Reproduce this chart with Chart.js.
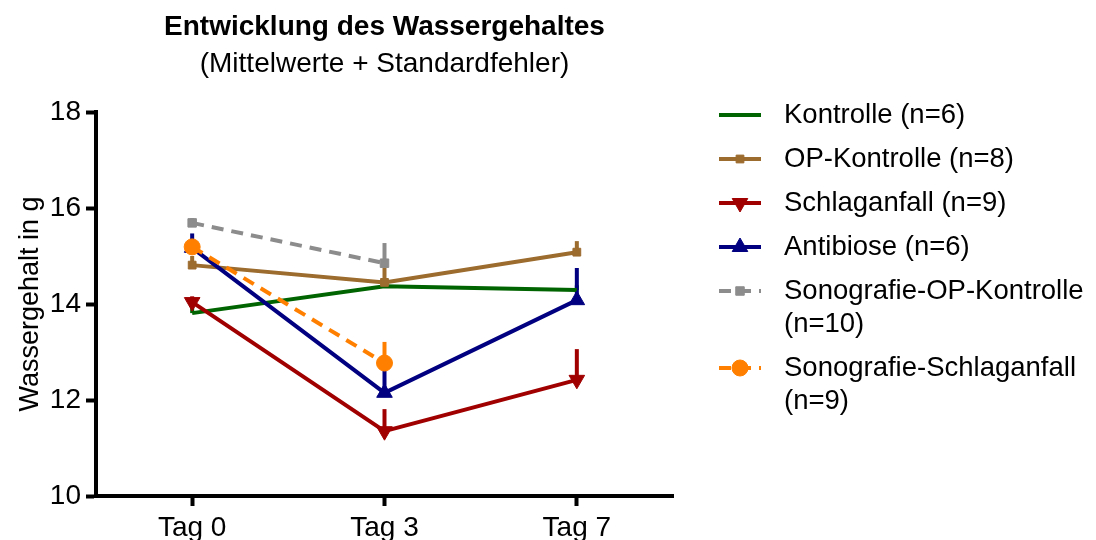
<!DOCTYPE html>
<html>
<head>
<meta charset="utf-8">
<script src="https://cdn.jsdelivr.net/npm/chart.js@4.4.0/dist/chart.umd.min.js"></script>
<style>
html, body { margin: 0; padding: 0; background: #fff; }
#wrap { width: 1096px; height: 540px; }
</style>
</head>
<body>
<div id="wrap"><canvas id="chart"></canvas></div>
<script>
// data
var days = ["Tag 0", "Tag 3", "Tag 7"];
var yTicks = [10, 12, 14, 16, 18];

var kontrolle = [13.81, 14.37, 14.29];
var kontrolleErr = [0.17, 0.1, 0.1];
var opKontrolle = [14.81, 14.45, 15.08];
var opKontrolleErr = [0.19, 0.3, 0.23];
var schlaganfall = [14.04, 11.35, 12.42];
var schlaganfallErr = [0.12, 0.46, 0.64];
var antibiose = [15.17, 12.15, 14.08];
var antibioseErr = [0.3, 0.55, 0.67];
var sonoOpKontrolle = [15.69, 14.85, null];
var sonoOpKontrolleErr = [0.1, 0.42, 0];
var sonoSchlaganfall = [15.19, 12.77, null];
var sonoSchlaganfallErr = [0.1, 0.44, 0];

var seriesNames = [
    ["Kontrolle (n=6)"],
    ["OP-Kontrolle (n=8)"],
    ["Schlaganfall (n=9)"],
    ["Antibiose (n=6)"],
    ["Sonografie-OP-Kontrolle", "(n=10)"],
    ["Sonografie-Schlaganfall", "(n=9)"]
];

var FONT = "'Liberation Sans', Arial, sans-serif";

function series(i, values, errs, color, style, radius, rotation, dash) {
    return {
        label: seriesNames[i].join(" "),
        data: values,
        errors: errs,
        borderColor: color,
        backgroundColor: color,
        borderWidth: 4,
        borderDash: dash || [],
        pointStyle: style,
        pointRadius: radius,
        pointHoverRadius: radius,
        pointRotation: rotation || 0,
        pointBorderWidth: 1,
        pointBorderColor: color,
        pointBackgroundColor: color,
        tension: 0,
        spanGaps: false,
        fill: false,
        order: 6 - i
    };
}

// upward error bars (mean + SEM)
var errorBars = {
    id: "errorBars",
    beforeDatasetsDraw: function(chart) {
        var ctx = chart.ctx;
        var ys = chart.scales.y;
        ctx.save();
        chart.data.datasets.forEach(function(ds, i) {
            var meta = chart.getDatasetMeta(i);
            ctx.strokeStyle = ds.borderColor;
            ctx.lineWidth = 4;
            ctx.setLineDash([]);
            ds.data.forEach(function(v, j) {
                if (v === null || !ds.errors[j]) return;
                var pt = meta.data[j];
                ctx.beginPath();
                ctx.moveTo(pt.x, pt.y);
                ctx.lineTo(pt.x, ys.getPixelForValue(v + ds.errors[j]));
                ctx.stroke();
            });
        });
        ctx.restore();
    }
};

// title, subtitle, y-axis title and legend
var decorations = {
    id: "decorations",
    afterDraw: function(chart) {
        var ctx = chart.ctx;
        var area = chart.chartArea;
        var cx = (area.left + area.right) / 2;
        ctx.save();
        ctx.fillStyle = "#000";
        ctx.textAlign = "center";
        ctx.textBaseline = "alphabetic";
        ctx.font = "bold 28px " + FONT;
        ctx.fillText("Entwicklung des Wassergehaltes", cx, 35);
        ctx.font = "28px " + FONT;
        ctx.fillText("(Mittelwerte + Standardfehler)", cx, 72);

        ctx.save();
        ctx.translate(31, (area.top + area.bottom) / 2);
        ctx.rotate(-Math.PI / 2);
        ctx.textBaseline = "middle";
        ctx.font = "27px " + FONT;
        ctx.fillText("Wassergehalt in g", 0, 0);
        ctx.restore();

        var y = 115;
        ctx.font = "27.5px " + FONT;
        ctx.textAlign = "left";
        ctx.textBaseline = "middle";
        chart.data.datasets.forEach(function(ds, i) {
            ctx.save();
            ctx.strokeStyle = ds.borderColor;
            ctx.lineWidth = 4;
            ctx.setLineDash(ds.borderDash);
            ctx.beginPath();
            ctx.moveTo(719, y);
            ctx.lineTo(761, y);
            ctx.stroke();
            ctx.setLineDash([]);
            if (ds.pointRadius > 0) {
                ctx.fillStyle = ds.pointBackgroundColor;
                ctx.strokeStyle = ds.pointBorderColor;
                ctx.lineWidth = 1;
                Chart.helpers.drawPoint(ctx, {
                    pointStyle: ds.pointStyle,
                    rotation: ds.pointRotation,
                    radius: ds.pointRadius,
                    borderWidth: 1
                }, 740, y);
            }
            ctx.restore();
            ctx.fillStyle = "#000";
            seriesNames[i].forEach(function(line, k) {
                ctx.fillText(line, 784, y + k * 33);
            });
            y += 44 + (seriesNames[i].length - 1) * 33;
        });
        ctx.restore();
    }
};

new Chart(document.getElementById("chart"), {
    type: "line",
    data: {
        labels: days,
        datasets: [
            series(0, kontrolle, kontrolleErr, "#006400", "circle", 0),
            series(1, opKontrolle, opKontrolleErr, "#9C6B2E", "rect", 5.5),
            series(2, schlaganfall, schlaganfallErr, "#A00000", "triangle", 9, 180),
            series(3, antibiose, antibioseErr, "#000080", "triangle", 9),
            series(4, sonoOpKontrolle, sonoOpKontrolleErr, "#8C8C8C", "rect", 6, 0, [12, 8]),
            series(5, sonoSchlaganfall, sonoSchlaganfallErr, "#FF8000", "circle", 8, 0, [12, 8])
        ]
    },
    options: {
        responsive: true,
        maintainAspectRatio: false,
        animation: false,
        layout: { padding: { top: 112, right: 423, left: 0, bottom: 0 } },
        plugins: {
            legend: { display: false },
            title: { display: false },
            tooltip: { enabled: false }
        },
        scales: {
            x: {
                type: "category",
                offset: true,
                afterFit: function(s) { s.height = 44; },
                grid: {
                    offset: false,
                    drawOnChartArea: false,
                    drawTicks: true,
                    tickLength: 10,
                    tickWidth: 4,
                    tickColor: "#000"
                },
                border: { display: true, color: "#000", width: 4 },
                ticks: {
                    color: "#000",
                    padding: 5,
                    font: { family: FONT, size: 28 }
                }
            },
            y: {
                min: 10,
                max: 18,
                afterFit: function(s) { s.width = 96; },
                afterBuildTicks: function(s) {
                    s.ticks = yTicks.map(function(v) { return { value: v }; });
                },
                grid: {
                    drawOnChartArea: false,
                    drawTicks: true,
                    tickLength: 10,
                    tickWidth: 4,
                    tickColor: "#000"
                },
                border: { display: true, color: "#000", width: 4 },
                ticks: {
                    color: "#000",
                    padding: 5,
                    font: { family: FONT, size: 28 }
                }
            }
        }
    },
    plugins: [errorBars, decorations]
});
</script>
</body>
</html>
